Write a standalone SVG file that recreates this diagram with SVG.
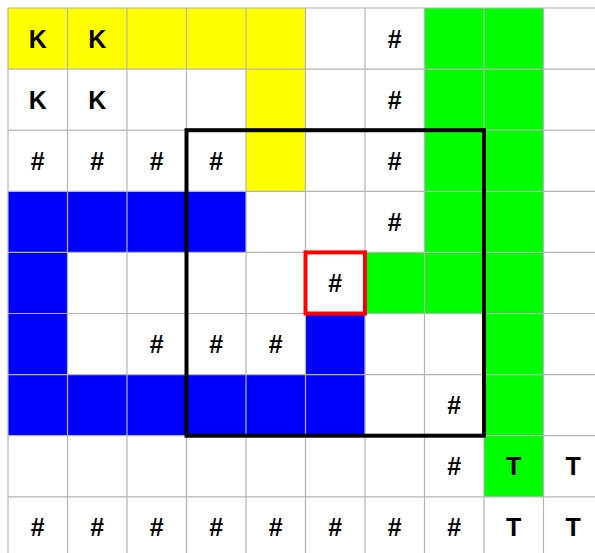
<svg xmlns="http://www.w3.org/2000/svg" width="595" height="553" viewBox="0 0 595 553">
<style>
.y{fill:#ffff00}.g{fill:#00ff00}.b{fill:#0000ff}
.grid line{stroke:#b4b4b4;stroke-width:1.2}
text{font-family:"Liberation Sans",Arial,sans-serif;font-weight:bold;font-size:25px;text-anchor:middle;fill:#000}
</style>
<rect width="595" height="553" fill="#fff"/>
<g id="fills">
<rect class="y" x="8" y="8" width="297.5" height="61.1"/>
<rect class="y" x="246" y="69.1" width="59.5" height="122.2"/>
<rect class="g" x="424.5" y="8" width="59.5" height="305.5"/>
<rect class="g" x="484" y="8" width="59.5" height="488.8"/>
<rect class="g" x="365" y="252.4" width="59.5" height="61.1"/>
<rect class="b" x="8" y="191.3" width="238" height="61.1"/>
<rect class="b" x="8" y="252.4" width="59.5" height="122.2"/>
<rect class="b" x="8" y="374.6" width="357" height="61.1"/>
<rect class="b" x="305.5" y="313.5" width="59.5" height="61.1"/>
</g>
<g class="grid" id="grid">
<line x1="8" y1="8" x2="8" y2="553"/>
<line x1="67.5" y1="8" x2="67.5" y2="553"/>
<line x1="127" y1="8" x2="127" y2="553"/>
<line x1="186.5" y1="8" x2="186.5" y2="553"/>
<line x1="246" y1="8" x2="246" y2="553"/>
<line x1="305.5" y1="8" x2="305.5" y2="553"/>
<line x1="365" y1="8" x2="365" y2="553"/>
<line x1="424.5" y1="8" x2="424.5" y2="553"/>
<line x1="484" y1="8" x2="484" y2="553"/>
<line x1="543.5" y1="8" x2="543.5" y2="553"/>
<line x1="8" y1="8" x2="595" y2="8"/>
<line x1="8" y1="69.1" x2="595" y2="69.1"/>
<line x1="8" y1="130.2" x2="595" y2="130.2"/>
<line x1="8" y1="191.3" x2="595" y2="191.3"/>
<line x1="8" y1="252.4" x2="595" y2="252.4"/>
<line x1="8" y1="313.5" x2="595" y2="313.5"/>
<line x1="8" y1="374.6" x2="595" y2="374.6"/>
<line x1="8" y1="435.7" x2="595" y2="435.7"/>
<line x1="8" y1="496.8" x2="595" y2="496.8"/>
</g>
<g id="labels">
<text x="37.75" y="47.5">K</text><text x="97.25" y="47.5">K</text><text x="394.75" y="47.5">#</text>
<text x="37.75" y="108.6">K</text><text x="97.25" y="108.6">K</text><text x="394.75" y="108.6">#</text>
<text x="37.75" y="169.7">#</text><text x="97.25" y="169.7">#</text><text x="156.75" y="169.7">#</text><text x="216.25" y="169.7">#</text><text x="394.75" y="169.7">#</text>
<text x="394.75" y="230.8">#</text>
<text x="335.25" y="291.9">#</text>
<text x="156.75" y="353">#</text><text x="216.25" y="353">#</text><text x="275.75" y="353">#</text>
<text x="454.25" y="414.1">#</text>
<text x="454.25" y="475.2">#</text><text x="513.75" y="475.2">T</text><text x="573.25" y="475.2">T</text>
<text x="37.75" y="536.3">#</text><text x="97.25" y="536.3">#</text><text x="156.75" y="536.3">#</text><text x="216.25" y="536.3">#</text><text x="275.75" y="536.3">#</text><text x="335.25" y="536.3">#</text><text x="394.75" y="536.3">#</text><text x="454.25" y="536.3">#</text><text x="513.75" y="536.3">T</text><text x="573.25" y="536.3">T</text>
</g>
<g id="frames" fill="none">
<rect id="window" x="186.5" y="130.2" width="297.5" height="305.5" stroke="#000" stroke-width="4"/>
<rect id="current" x="305.5" y="252.4" width="59.5" height="61.1" stroke="#ff0000" stroke-width="4"/>
</g>
</svg>
